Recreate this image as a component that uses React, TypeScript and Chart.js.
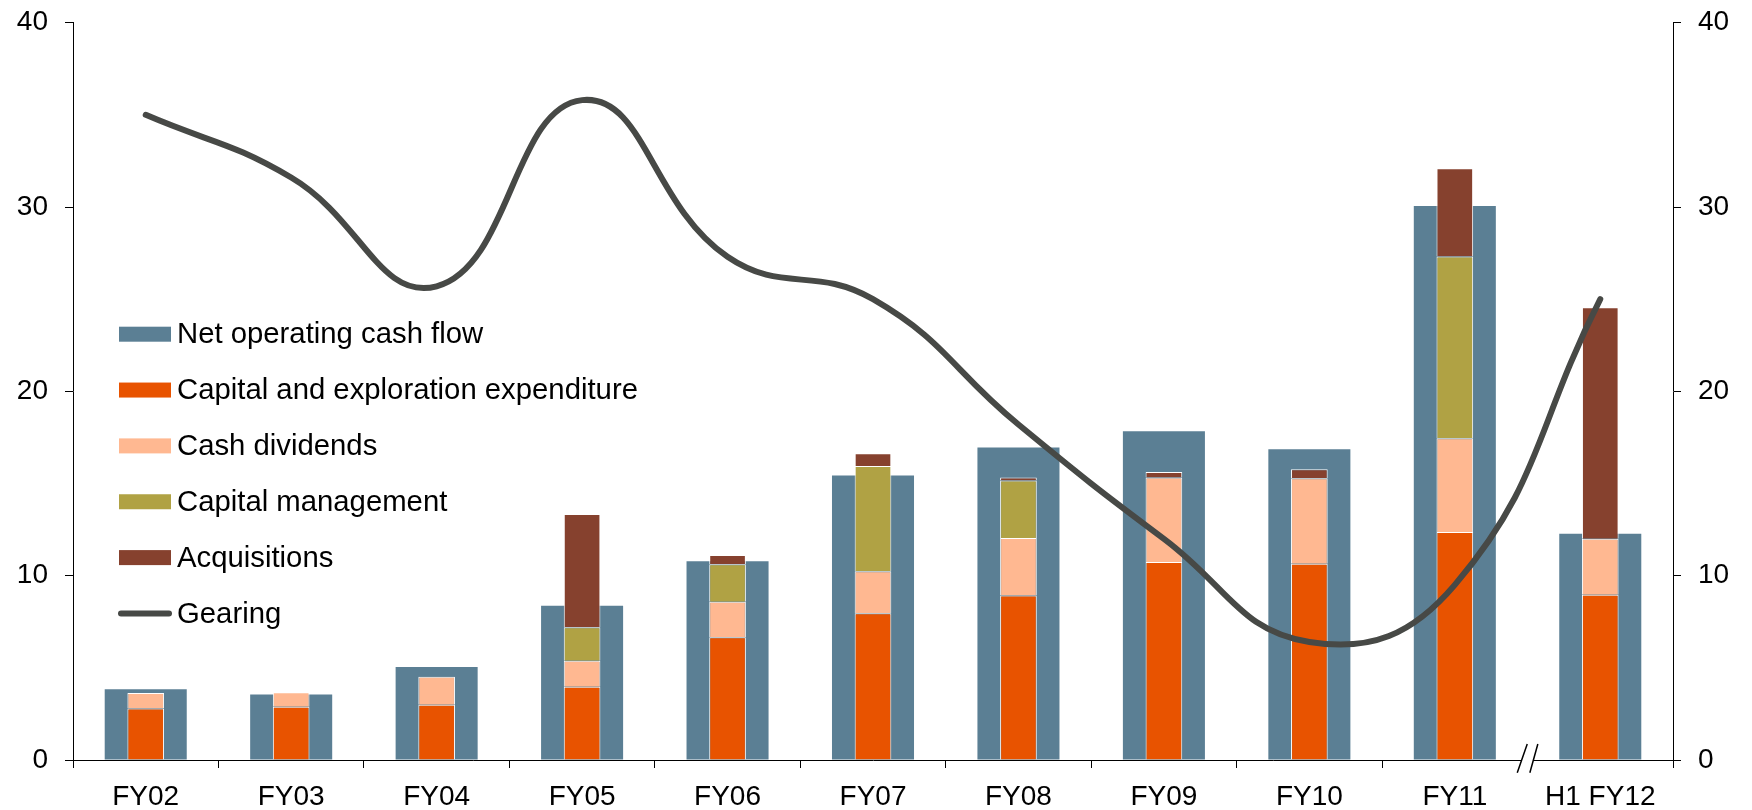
import React, { useEffect, useRef } from "react";
import { Chart, registerables } from "chart.js";

Chart.register(...registerables);

const categories = ["FY02", "FY03", "FY04", "FY05", "FY06", "FY07", "FY08", "FY09", "FY10", "FY11", "H1 FY12"];
const netOperatingCashFlow = [3.84, 3.56, 5.05, 8.37, 10.78, 15.43, 16.95, 17.83, 16.86, 30.06, 12.27];
const capitalExpenditure = [2.8, 2.89, 3.0, 3.98, 6.66, 7.96, 8.92, 10.74, 10.65, 12.37, 8.97];
const cashDividends = [0.84, 0.78, 1.51, 1.41, 1.93, 2.28, 3.13, 4.58, 4.64, 5.08, 3.03];
const capitalManagement = [null, null, null, 1.81, 2.03, 5.71, 3.12, null, null, 9.86, null];
const acquisitions = [null, null, null, 6.15, 0.5, 0.69, 0.15, 0.3, 0.49, 4.79, 12.56];
const gearing = [35.0, 31.6, 25.7, 35.8, 27.3, 25.0, 18.2, 12.0, 6.4, 9.5, 25.0];
const axisMin = 0;
const axisMax = 40;
const axisStep = 10;

const FONT = 'Arial, "Liberation Sans", sans-serif';

const legendPlugin = {
  id: "customLegend",
  afterDatasetsDraw(chart: any) {
    const { ctx, chartArea } = chart;
    const x0 = chartArea.left + 46;
    const y0 = chartArea.top + 311.5;
    const step = 55.85;
    const size = 29.3;
    ctx.save();
    ctx.font = `${size}px ${FONT}`;
    ctx.textBaseline = "alphabetic";
    ctx.textAlign = "left";
    chart.data.datasets.forEach((ds: any, i: number) => {
      const yc = y0 + i * step;
      if (ds.type === "line") {
        ctx.strokeStyle = ds.borderColor;
        ctx.lineWidth = 6;
        ctx.lineCap = "round";
        ctx.beginPath();
        ctx.moveTo(x0 + 2, yc);
        ctx.lineTo(x0 + 50, yc);
        ctx.stroke();
      } else {
        ctx.fillStyle = ds.backgroundColor;
        ctx.fillRect(x0, yc - 7.5, 52, 15);
      }
      ctx.fillStyle = "#000";
      ctx.fillText(ds.label, x0 + 58, yc + 18.3 / 2);
    });
    ctx.restore();
  },
};

const breakPlugin = {
  id: "axisBreak",
  afterDraw(chart: any) {
    const { ctx, chartArea } = chart;
    const xs = chart.scales.x;
    const bx = (xs.getPixelForValue(9) + xs.getPixelForValue(10)) / 2;
    const by = chartArea.bottom;
    ctx.save();
    ctx.fillStyle = "#fff";
    ctx.beginPath();
    ctx.moveTo(bx - 10.3, by + 12.7);
    ctx.lineTo(bx - 0.3, by - 16);
    ctx.lineTo(bx + 10.3, by - 16);
    ctx.lineTo(bx + 2.3, by + 12.7);
    ctx.closePath();
    ctx.fill();
    ctx.strokeStyle = "#000";
    ctx.lineWidth = 1.5;
    ctx.beginPath();
    ctx.moveTo(bx - 10.3, by + 12.7);
    ctx.lineTo(bx - 0.3, by - 16);
    ctx.moveTo(bx + 2.3, by + 12.7);
    ctx.lineTo(bx + 10.3, by - 16);
    ctx.stroke();
    ctx.restore();
  },
};

export default function App() {
  const ref = useRef<HTMLCanvasElement | null>(null);
  useEffect(() => {
    if (!ref.current) return;
    const stackedCommon = {
      xAxisID: "x",
      yAxisID: "y",
      stack: "uses",
      grouped: false,
      barPercentage: 0.252,
      categoryPercentage: 1,
      borderColor: "#ffffff",
      borderWidth: { top: 1, left: 1, right: 1, bottom: 0 },
      order: 2,
    };
    const chart = new Chart(ref.current, {
      type: "bar",
      data: {
        labels: categories,
        datasets: [
          {
            type: "bar",
            label: "Net operating cash flow",
            data: netOperatingCashFlow,
            backgroundColor: "#5B7F94",
            xAxisID: "x2",
            yAxisID: "y",
            stack: "nocf",
            grouped: false,
            barPercentage: 0.564,
            categoryPercentage: 1,
            order: 3,
          },
          { type: "bar", label: "Capital and exploration expenditure", data: capitalExpenditure, backgroundColor: "#E85300", ...stackedCommon },
          { type: "bar", label: "Cash dividends", data: cashDividends, backgroundColor: "#FFB891", ...stackedCommon },
          { type: "bar", label: "Capital management", data: capitalManagement, backgroundColor: "#B0A244", ...stackedCommon },
          { type: "bar", label: "Acquisitions", data: acquisitions, backgroundColor: "#86412E", ...stackedCommon },
          {
            type: "line",
            label: "Gearing",
            data: gearing,
            xAxisID: "x",
            yAxisID: "y2",
            borderColor: "#474946",
            backgroundColor: "#474946",
            borderWidth: 6,
            borderCapStyle: "round",
            pointRadius: 0,
            tension: 0.45,
            order: 1,
          },
        ] as any,
      },
      options: {
        animation: false,
        responsive: false,
        maintainAspectRatio: false,
        layout: { padding: { top: 22.7, left: 0, right: 0, bottom: 0 } },
        plugins: { legend: { display: false }, tooltip: { enabled: false } },
        scales: {
          x: {
            type: "category",
            stacked: true,
            offset: true,
            grid: {
              offset: true,
              drawOnChartArea: false,
              drawTicks: true,
              tickLength: 8,
              color: (c: any) => (c.index === 10 ? "rgba(0,0,0,0)" : "#000"),
            },
            border: { color: "#000", width: 1 },
            ticks: { font: { size: 28, family: FONT }, color: "#000", padding: 12, maxRotation: 0, autoSkip: false },
            afterFit: (s: any) => { s.height = 50; s.paddingLeft = 0; s.paddingRight = 0; },
          },
          x2: { type: "category", offset: true, display: false, labels: categories },
          y: {
            position: "left",
            stacked: true,
            min: axisMin,
            max: axisMax,
            ticks: { stepSize: axisStep, font: { size: 28, family: FONT }, color: "#000", padding: 17 },
            grid: { drawOnChartArea: false, tickLength: 8, color: "#000" },
            border: { color: "#000", width: 1 },
            afterFit: (s: any) => { s.width = 73; s.paddingTop = 0; s.paddingBottom = 0; },
          },
          y2: {
            position: "right",
            min: axisMin,
            max: axisMax,
            ticks: { stepSize: axisStep, font: { size: 28, family: FONT }, color: "#000", padding: 17 },
            grid: { drawOnChartArea: false, tickLength: 8, color: "#000" },
            border: { color: "#000", width: 1 },
            afterFit: (s: any) => { s.width = 79; s.paddingTop = 0; s.paddingBottom = 0; },
          },
        },
      } as any,
      plugins: [legendPlugin, breakPlugin],
    });
    return () => chart.destroy();
  }, []);
  return (
    <div style={{ position: "absolute", left: 0, top: 0, width: 1752, height: 810, background: "#fff" }}>
      <canvas ref={ref} width={1752} height={810} style={{ width: 1752, height: 810, display: "block" }} />
    </div>
  );
}
